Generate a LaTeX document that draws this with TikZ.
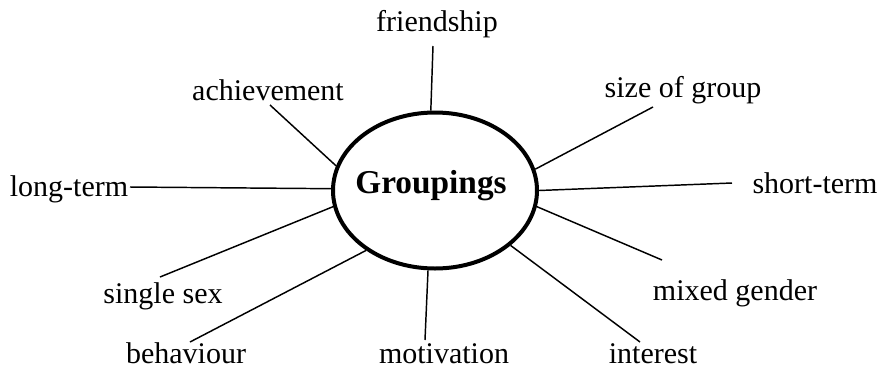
\documentclass[tikz,border=0pt]{standalone}
\usepackage{fontspec}
\setmainfont{Liberation Serif}
\usetikzlibrary{shapes.geometric}
\begin{document}
\begin{tikzpicture}[x=0.75pt,y=-0.75pt,
  lbl/.style={anchor=base,inner sep=0pt,font=\fontsize{22.5}{27}\selectfont},
  spoke/.style={line width=1.1pt},
  hub/.style={ellipse,draw,line width=3pt,minimum width=153pt,minimum height=117pt,inner sep=0pt}]
\useasboundingbox (0,0) rectangle (883,369);
\node[hub] (g) at (435,190.5) {};
\node[lbl,font=\fontsize{25}{28}\selectfont\bfseries] (gt) at (431,193) {Groupings};
% labels
\node[lbl] (fr) at (437,31) {friendship};
\node[lbl] (ac) at (268,100) {achievement};
\node[lbl] (sg) at (683,97) {size of group};
\node[lbl] (lt) at (69,196) {long-term};
\node[lbl] (st) at (815,193) {short-term};
\node[lbl] (ss) at (163,303) {single sex};
\node[lbl] (be) at (186,363) {behaviour};
\node[lbl] (mo) at (444,363) {motivation};
\node[lbl] (mg) at (735,300) {mixed gender};
\node[lbl] (in) at (653,363) {interest};
% connector free ends near labels
\coordinate (frE) at (433,46);
\coordinate (acE) at (270,105);
\coordinate (sgE) at (653,107);
\coordinate (ltE) at (130,187);
\coordinate (stE) at (732,183);
\coordinate (ssE) at (160,277);
\coordinate (beE) at (190,342);
\coordinate (moE) at (425,340);
\coordinate (mgE) at (662,260);
\coordinate (inE) at (640,342);
% connectors
\draw[spoke] (frE) -- (g.93.6);
\draw[spoke] (acE) -- (g.166.8);
\draw[spoke] (ltE) -- (g.179);
\draw[spoke] (sgE) -- (g.12.3);
\draw[spoke] (stE) -- (g.0);
\draw[spoke] (ssE) -- (g.189);
\draw[spoke] (beE) -- (g.221.3);
\draw[spoke] (moE) -- (g.265);
\draw[spoke] (mgE) -- (g.351);
\draw[spoke] (inE) -- (g.324);
\end{tikzpicture}
\end{document}
